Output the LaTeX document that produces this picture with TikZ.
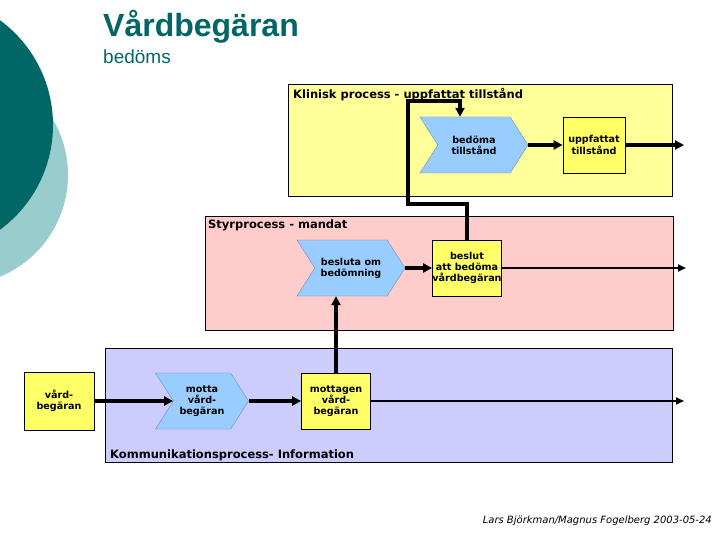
\documentclass[tikz,border=0pt]{standalone}
\usepackage{fontspec}
\setmainfont{DejaVu Sans}
\newfontfamily\titlefont{Liberation Sans}
\usetikzlibrary{arrows.meta, positioning, shapes.symbols}
\definecolor{teal1}{HTML}{006666}
\definecolor{teal2}{HTML}{99CCCC}
\definecolor{klinbg}{HTML}{FFFF99}
\definecolor{styrbg}{HTML}{FFCCCC}
\definecolor{kommbg}{HTML}{CCCCFF}
\definecolor{chevbg}{HTML}{99CCFF}
\definecolor{itembg}{HTML}{FFFF66}

\begin{document}
\begin{tikzpicture}[x=1pt,y=-1pt,>={Triangle[length=9pt,width=9pt]},
      process/.style={draw,line width=0.8pt,anchor=north west,inner sep=0pt},
      ptitle/.style={anchor=north west,inner sep=0pt,font=\bfseries\fontsize{11.5}{13}\selectfont},
      chev/.style={signal,signal from=west,signal to=east,signal pointer angle=115,
        fill=chevbg,draw=chevbg!70!black,line width=0.4pt,minimum width=108pt,minimum height=56pt,
        inner sep=1pt,align=center,font=\bfseries\fontsize{9.6}{11.2}\selectfont},
      item/.style={draw,line width=0.8pt,fill=itembg,minimum width=69pt,minimum height=56pt,
        inner sep=0pt,align=center,font=\bfseries\fontsize{9.6}{11.2}\selectfont},
      thick flow/.style={->,line width=3.6pt},
      thin flow/.style={->,line width=1.8pt,>={Triangle[length=8pt,width=7pt]}}]
      \useasboundingbox (0,0) rectangle (720,540);
      % decoration and heading
      \fill[teal2] (-42,175) circle (110);
      \fill[teal1] (-77,125) circle (130);
      \node[anchor=base west,inner sep=0pt,text=teal1,font=\titlefont\bfseries\fontsize{32}{36}\selectfont]
        (rubrik) at (103,37) {Vårdbegäran};
      \node[anchor=base west,inner sep=0pt,text=teal1,font=\titlefont\fontsize{19}{22}\selectfont]
        (underrubrik) at (103,64) {bedöms};
      % process lanes
      \node[process,fill=klinbg,minimum width=384pt,minimum height=112pt] (klin) at (288,84) {};
      \node[process,fill=styrbg,minimum width=468pt,minimum height=114pt] (styr) at (205,216) {};
      \node[process,fill=kommbg,minimum width=567pt,minimum height=114pt] (komm) at (105,348) {};
      \node[ptitle] at ([shift={(5,4)}]klin.north west) {Klinisk process - uppfattat tillstånd};
      \node[ptitle] at ([shift={(3,4)}]styr.north west) {Styrprocess - mandat};
      \node[ptitle,anchor=south west] at ([shift={(5,-2)}]komm.south west) {Kommunikationsprocess- Information};
      % activities and results
      \node[chev] (bedoma) at (474,145) {bedöma\\tillstånd};
      \node[item,minimum width=62pt] (uppf) at (594,145) {uppfattat\\tillstånd};
      \node[chev] (besluta) at (351,268) {besluta om\\bedömning};
      \node[item] (beslut) at (467,268) {beslut\\att bedöma\\vårdbegäran};
      \node[item,minimum width=70pt,minimum height=58pt] (vard) at (59,401) {vård-\\begäran};
      \node[chev,minimum width=93pt] (motta) at (202,401) {motta\\vård-\\begäran};
      \node[item] (mottagen) at (336,401) {mottagen\\vård-\\begäran};
      \coordinate (ut1) at (684,145);
      \coordinate (ut2) at (686,268);
      \coordinate (ut3) at (684,401);
      \coordinate (upp1) at (408,204);
      \coordinate (upp2) at (460,101);
      % flows
      \draw[thick flow] (vard.east) -- (motta.west);
      \draw[thick flow] (motta.east) -- (mottagen.west);
      \draw[thin flow] (mottagen.east) -- (ut3);
      \draw[thick flow] (mottagen.north) -- (mottagen.north |- besluta.south);
      \draw[thick flow] (besluta.east) -- (beslut.west);
      \draw[thin flow] (beslut.east) -- (ut2);
      \draw[thick flow] (beslut.north) |- (upp1) |- (upp2) -- (upp2 |- bedoma.north);
      \draw[thick flow] (bedoma.east) -- (uppf.west);
      \draw[thick flow] (uppf.east) -- (ut1);
      \node[anchor=base east,inner sep=0pt,font=\itshape\fontsize{10}{12}\selectfont]
        (sign) at (712,523) {Lars Björkman/Magnus Fogelberg 2003-05-24};
\end{tikzpicture}
\end{document}
